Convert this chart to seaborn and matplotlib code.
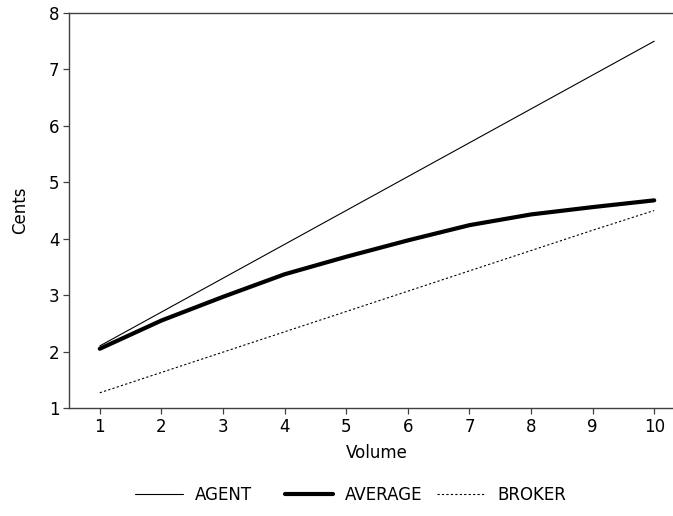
import matplotlib
matplotlib.use("Agg")
import matplotlib.pyplot as plt
import seaborn as sns
import pandas as pd

# Cost per share (cents) against trade volume
volume = [1, 2, 3, 4, 5, 6, 7, 8, 9, 10]
agent = [2.10, 2.70, 3.30, 3.90, 4.50, 5.10, 5.70, 6.30, 6.90, 7.50]
average = [2.05, 2.55, 2.97, 3.37, 3.68, 3.97, 4.24, 4.43, 4.56, 4.68]
broker = [1.27, 1.63, 1.99, 2.35, 2.71, 3.07, 3.43, 3.79, 4.15, 4.50]

x_ticks = [1, 2, 3, 4, 5, 6, 7, 8, 9, 10]
y_ticks = [1, 2, 3, 4, 5, 6, 7, 8]

sns.set_theme(style="ticks")
plt.rcParams["font.family"] = ["DejaVu Sans"]
plt.rcParams["text.color"] = "black"
plt.rcParams["axes.labelcolor"] = "black"

df = pd.DataFrame({"Volume": volume, "AGENT": agent,
                   "AVERAGE": average, "BROKER": broker})

W, H = 673, 516
fig = plt.figure(figsize=(W / 100, H / 100), dpi=100)
ax = fig.add_axes([69 / W, 108 / H, 616 / W, 395 / H])

sns.lineplot(data=df, x="Volume", y="AGENT", ax=ax, color="black",
             linewidth=0.8, label="AGENT", legend=False)
sns.lineplot(data=df, x="Volume", y="AVERAGE", ax=ax, color="black",
             linewidth=3.0, label="AVERAGE", legend=False)
sns.lineplot(data=df, x="Volume", y="BROKER", ax=ax, color="black",
             linewidth=0.8, linestyle=(0, (2, 2)), label="BROKER", legend=False)

ax.set_xlim(0.5, 10.5)
ax.set_ylim(1, 8)
ax.set_xticks(x_ticks)
ax.set_yticks(y_ticks)
fs = 12
ax.tick_params(axis="both", labelsize=fs, length=4, width=0.9,
               color="#404040", labelcolor="black", pad=3)
ax.set_xlabel("Volume", fontsize=fs, labelpad=6, color="black")
ax.set_ylabel("Cents", fontsize=fs, labelpad=14, color="black")

for side in ["left", "bottom", "top"]:
    ax.spines[side].set_color("#404040")
    ax.spines[side].set_linewidth(1.0)
ax.spines["right"].set_visible(False)

# One legend entry per column, each starting at its own x position
handles, labels = ax.get_legend_handles_labels()
starts = [135, 285, 437]
for h, lab, x0 in zip(handles, labels, starts):
    fig.legend([h], [lab], loc="center left",
               bbox_to_anchor=(x0 / W, 1 - 495 / H),
               frameon=False, fontsize=fs, handlelength=2.9,
               handletextpad=0.7, borderpad=0, borderaxespad=0,
               labelcolor="black")

fig.savefig("out.png", dpi=100)
